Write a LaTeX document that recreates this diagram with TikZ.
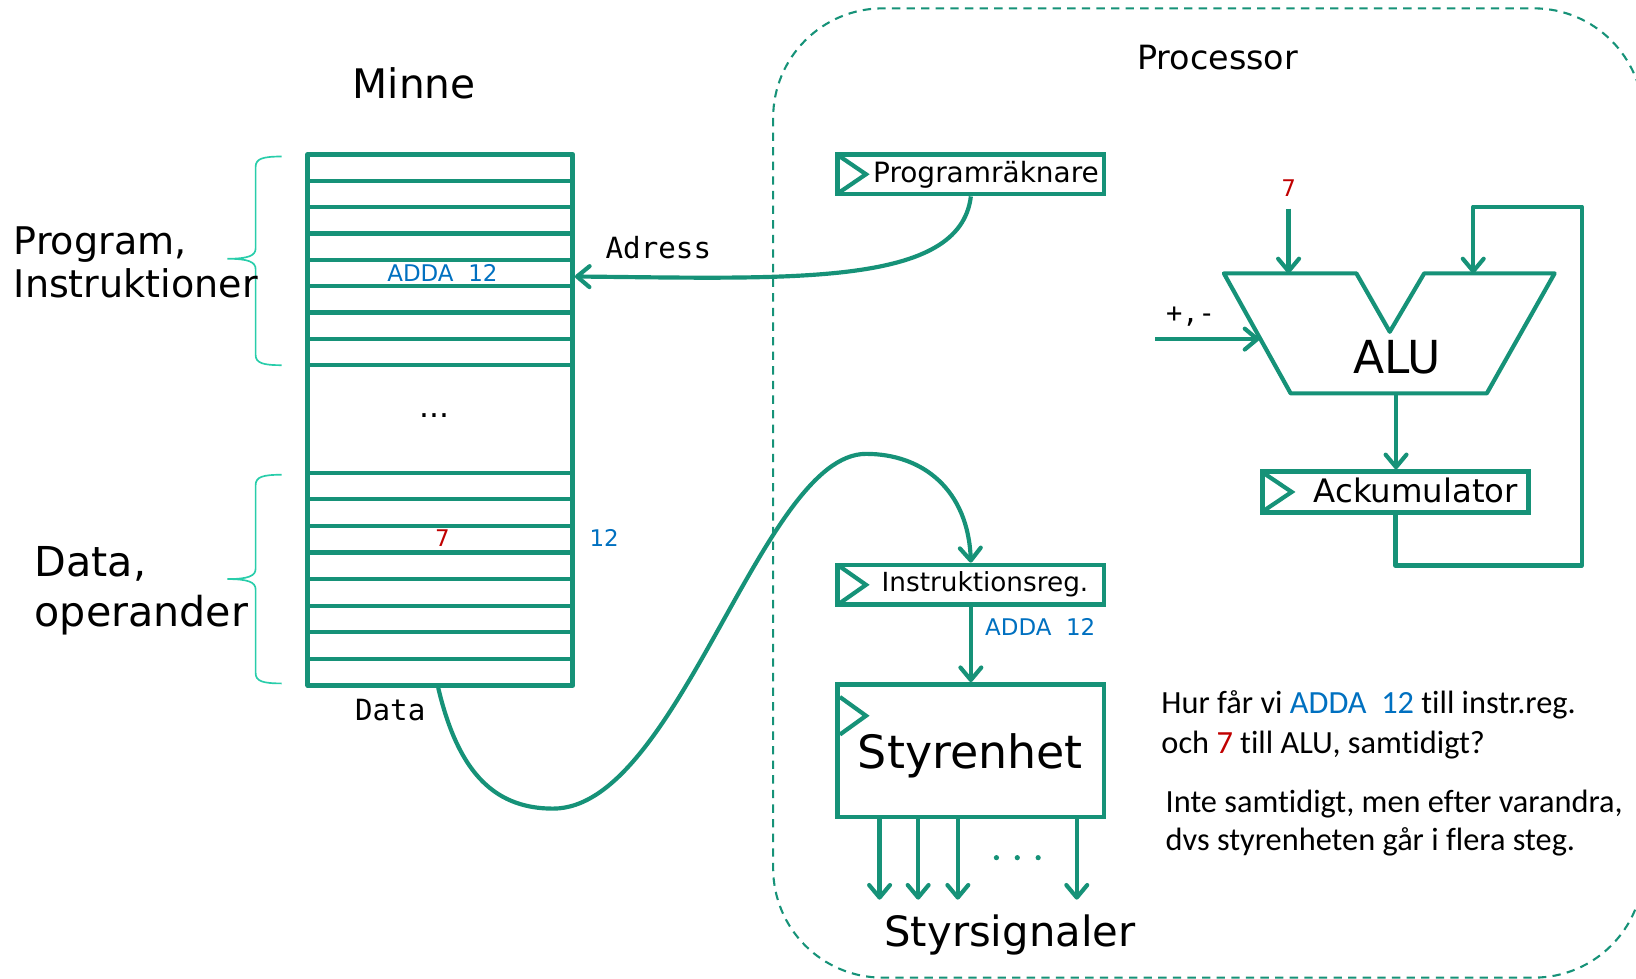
\documentclass[tikz,border=0pt]{standalone}
\usepackage{fontspec}
\setmainfont{DejaVu Sans}
\newfontfamily\monof{DejaVu Sans Mono}
\newfontfamily\carl[Ligatures=NoCommon]{Carlito}
\usetikzlibrary{arrows.meta,calc}
\definecolor{grn}{RGB}{22,146,120}
\definecolor{brc}{RGB}{40,205,170}
\definecolor{blu}{RGB}{0,112,192}
\definecolor{rd}{RGB}{192,0,0}
\newcommand{\fsz}[1]{\fontsize{#1}{#1}\selectfont}
\begin{document}
\begin{tikzpicture}[x=1pt,y=-1pt,
  wire/.style={draw=grn,line width=4pt,line join=round},
  arr/.style={wire,-{Straight Barb[length=12pt,width=20pt,round]}},
  regbox/.style={draw=grn,line width=4.5pt,inner sep=0,minimum width=255pt,minimum height=38pt},
  clk/.style={draw=grn,line width=4pt,line join=miter},
  brace/.style={draw=brc,line width=1.6pt},
  lbl/.style={inner sep=0,anchor=base},
  lblw/.style={inner sep=0,anchor=base west},
  procdash/.style={draw=grn,line width=2pt,dash pattern=on 8pt off 6pt}
]
\useasboundingbox (0,0) rectangle (1568,938);
\clip (0,0) rectangle (1568,938);

% Processor boundary
\draw[procdash,rounded corners=105pt] (741,8) rectangle (1575,937);
\node[lbl,font=\fsz{32}] (proclbl) at (1167,67) {Processor};

% Memory
\node[lbl,font=\fsz{39}] (minne) at (397,94) {Minne};
\node[draw=grn,line width=4.5pt,line join=round,minimum width=254pt,minimum height=509pt,inner sep=0] (mem) at (422,402.5) {};
\foreach \k in {1,...,8} \draw[wire] (295,{148+\k*25.25}) -- (549,{148+\k*25.25});
\foreach \k in {0,...,7} \draw[wire] (295,{453+\k*25.5}) -- (549,{453+\k*25.5});
\node[lbl,font=\fsz{22},text=blu] (adda1) at (424,270) {ADDA\ \ 12};
\node[lbl,font=\fsz{30}] (mdots) at (416,400) {...};
\node[lbl,font=\fsz{22},text=rd] (seven1) at (424,524) {7};
\node[lbl,font=\fsz{22},text=blu] (twelve) at (579,524) {12};
\coordinate (adr) at (551,265);
\coordinate (dataOut) at ([xshift=-2pt]mem.south);

% braces and labels
\draw[brace] (270,150) .. controls (252,150) and (245,152) .. (245,160) -- (245,238)
  .. controls (245,245) and (238,248) .. (218,248)
  .. controls (238,248) and (245,251) .. (245,258) -- (245,340)
  .. controls (245,348) and (252,350) .. (270,350);
\draw[brace] (270,455) .. controls (252,455) and (245,457) .. (245,465) -- (245,545)
  .. controls (245,552) and (238,555) .. (218,555)
  .. controls (238,555) and (245,558) .. (245,565) -- (245,645)
  .. controls (245,653) and (252,655) .. (270,655);
\node[lblw,font=\fsz{36.5}] (prog1) at (13,244) {Program,};
\node[lblw,font=\fsz{36.5}] (prog2) at (13,285) {Instruktioner};
\node[lblw,font=\fsz{39.5}] (data1) at (33,553) {Data,};
\node[lblw,font=\fsz{39.5}] (data2) at (33,600) {operander};

\node[lbl,font=\monof\fsz{28}] (adrlbl) at (631,248) {Adress};
\node[lbl,font=\monof\fsz{28}] (datalbl) at (374,691) {Data};

% Program counter
\node[regbox] (pc) at (930.5,167) {};
\draw[clk] (805,150) -- (830,167) -- (805,184);
\node[lbl,font=\fsz{26.8}] (pctxt) at (945,175) {Programräknare};
\draw[arr] (pc.south) .. controls (920,275) and (760,267) .. (adr);

% Instruction register
\node[regbox] (ir) at (930.5,560.5) {};
\draw[clk] (805,543) -- (830,560.5) -- (805,578);
\node[lbl,font=\fsz{25.2}] (irtxt) at (944,567) {Instruktionsreg.};
\draw[arr] (dataOut) .. controls (438,735) and (470,775) .. (530,775)
  .. controls (650,775) and (730,435) .. (830,435)
  .. controls (885,435) and (928,470) .. (ir.north);

% Control unit
\node[draw=grn,line width=4.5pt,inner sep=0,minimum width=255pt,minimum height=127pt] (styr) at (930.5,719.5) {};
\draw[clk] (805,668) -- (830,686) -- (805,704);
\node[lbl,font=\fsz{44}] (styrtxt) at (930,737) {Styrenhet};
\draw[arr] (ir.south) -- (styr.north);
\node[lbl,font=\fsz{22},text=blu] (adda2) at (997,609) {ADDA\ \ 12};
\foreach \dx in {-87.5,-50.5,-12.5,101.5}
  \draw[arr] ([xshift=\dx pt]styr.south) -- ++(0,77);
\foreach \xx in {955,975,995} \fill[grn] (\xx,822) circle (2.5);
\node[lbl,font=\fsz{40}] (sig) at (968,907) {Styrsignaler};

% ALU
\draw[wire] (1173,262) -- (1300,262) -- (1332,318) -- (1365,262) -- (1490,262) -- (1425,377) -- (1237,377) -- cycle;
\node[lbl,font=\fsz{43.6}] (alutxt) at (1339,358) {ALU};
\coordinate (aluIn1) at (1235,262);
\coordinate (aluIn2) at (1412,262);
\coordinate (aluOut) at (1338,377);
\coordinate (aluOp) at (1207,325);
\coordinate (in7) at (1235,200);
\coordinate (opSrc) at (1107,325);
\node[lbl,font=\fsz{22},text=rd] (seven2) at (1235,188) {7};
\draw[arr] (in7) -- (aluIn1);
\node[lbl,font=\monof\fsz{26}] (oplbl) at (1141,309) {+,-};
\draw[arr] (opSrc) -- (aluOp);

% Accumulator
\node[regbox,minimum height=39pt] (ack) at (1337.5,471.5) {};
\draw[clk] (1212,454) -- (1238,471.5) -- (1212,489);
\node[lbl,font=\fsz{31}] (acktxt) at (1357,482) {Ackumulator};
\draw[arr] (aluOut) -- (aluOut |- ack.north);
\coordinate (fb1) at (1516,542);
\coordinate (fb2) at (1516,198);
\draw[arr] (ack.south) |- (fb1) -- (fb2) -| (aluIn2);

% Question text
\node[lblw,font=\carl\fsz{31}] (q1) at (1113,684) {Hur får vi {\color{blu}ADDA\ \ 12} till instr.reg.};
\node[lblw,font=\carl\fsz{31}] (q2) at (1113,722) {och {\color{rd}7} till ALU, samtidigt?};
\node[lblw,font=\carl\fsz{31}] (a1) at (1117,779) {Inte samtidigt, men efter varandra,};
\node[lblw,font=\carl\fsz{31}] (a2) at (1117,815) {dvs styrenheten går i flera steg.};
\end{tikzpicture}
\end{document}
